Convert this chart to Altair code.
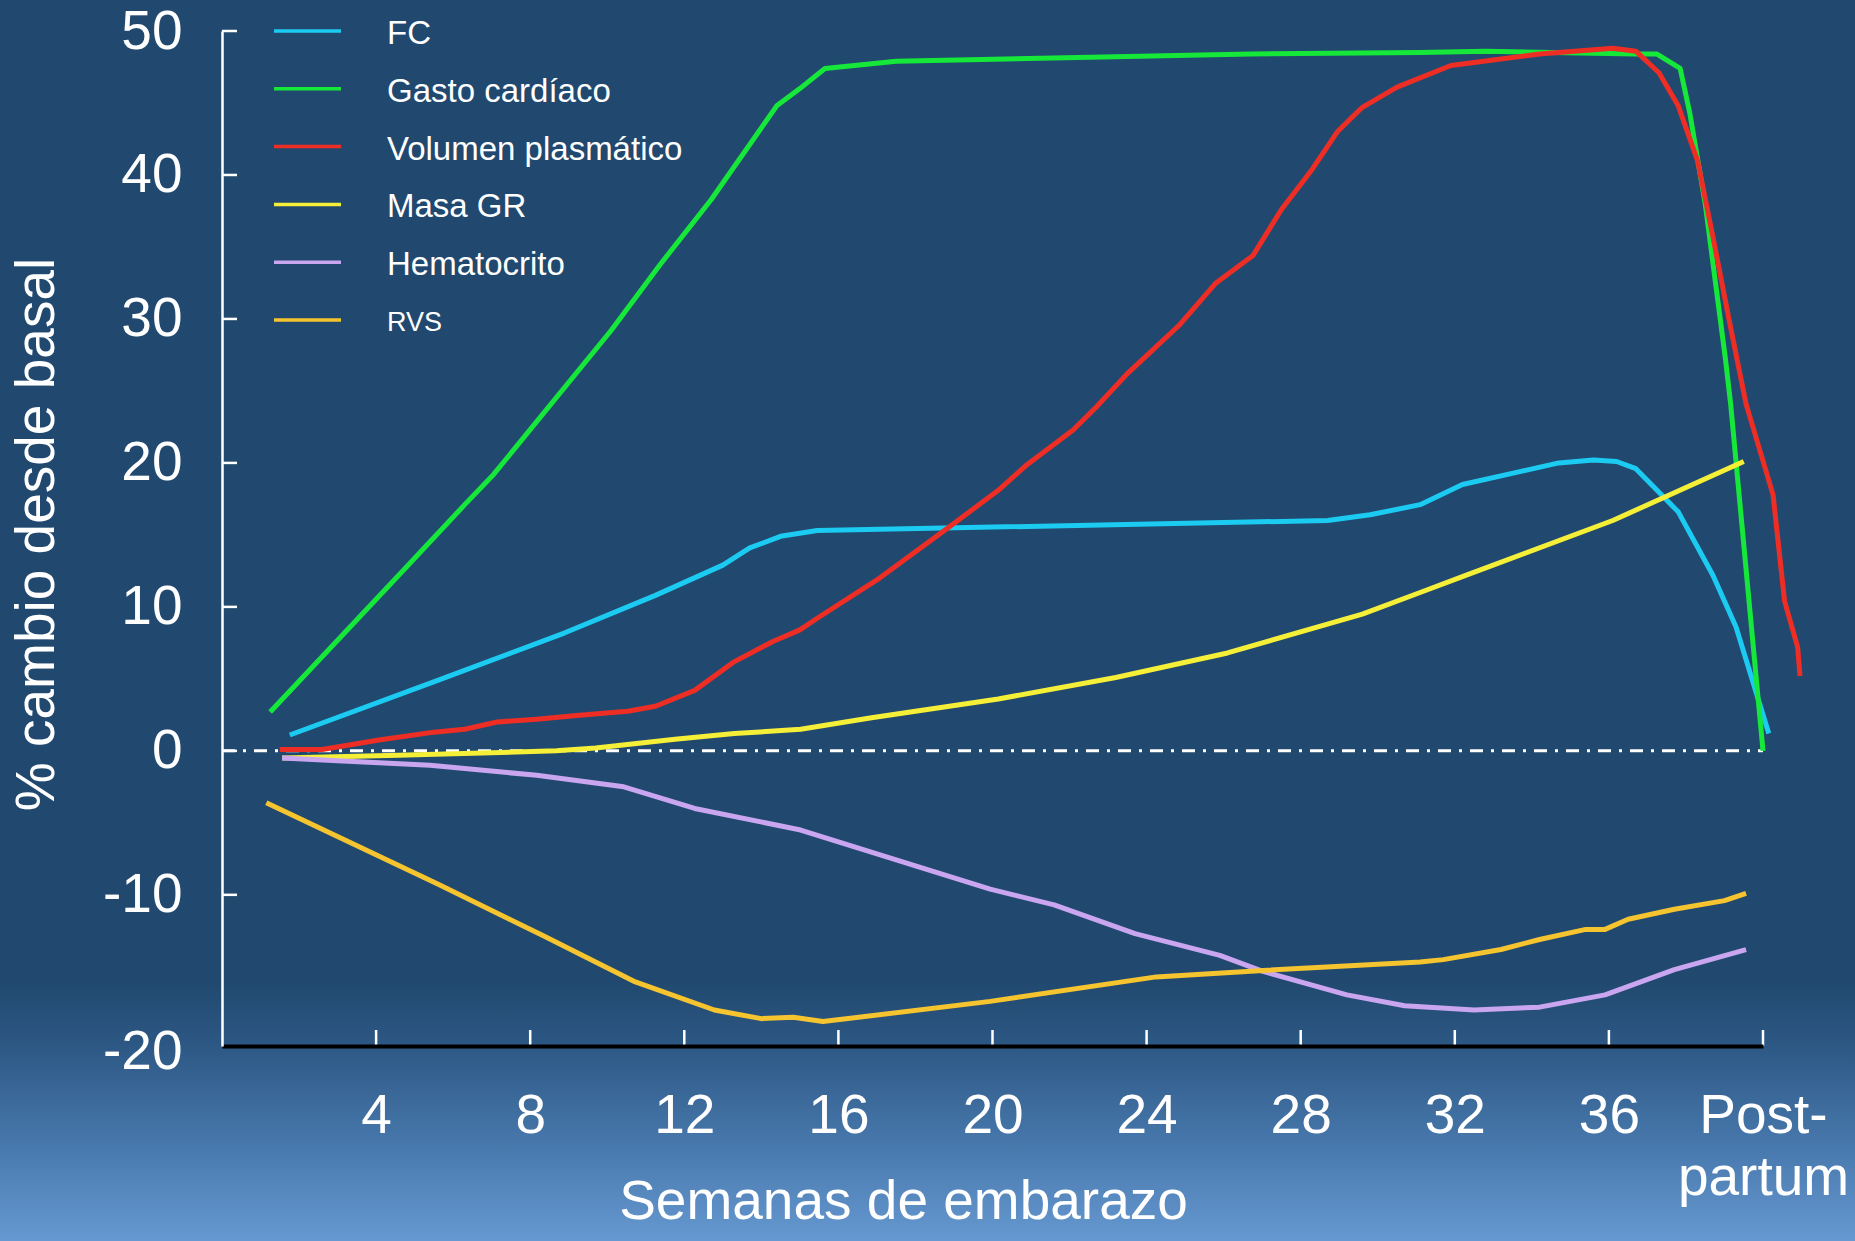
import altair as alt
import pandas as pd

# ---------------- data ----------------
series_names = ["FC", "Gasto cardíaco", "Volumen plasmático", "Masa GR", "Hematocrito", "RVS"]
series_colors = ["#1ccbf2", "#16e83a", "#ee2e24", "#f6ef38", "#c9a6ef", "#f6c42e"]

fc_weeks = [1.76, 5.6, 8.9, 11.25, 13.0, 13.7, 14.5, 15.45, 28.7, 29.8, 31.1, 32.2,
            34.7, 35.6, 36.2, 36.7, 37.8, 38.7, 39.3, 40.15]
fc_values = [1.1, 4.9, 8.2, 10.8, 12.9, 14.1, 14.9, 15.3, 16.0, 16.4, 17.1, 18.5,
             20.0, 20.2, 20.1, 19.6, 16.6, 12.2, 8.6, 1.2]

gc_weeks = [1.25, 4.8, 6.3, 7.05, 10.1, 11.35, 12.7, 14.4, 15.0, 15.65, 17.5, 26.7,
            31.1, 32.8, 36.7, 37.25, 37.85, 38.1, 38.5, 39.03, 39.16, 40.0]
gc_values = [2.7, 12.8, 17.1, 19.2, 29.2, 33.7, 38.3, 44.8, 46.0, 47.4, 47.9, 48.4,
             48.5, 48.6, 48.4, 48.4, 47.4, 44.3, 38.0, 27.1, 24.1, 0.0]

vp_weeks = [1.5, 2.6, 4.07, 5.5, 6.3, 7.14, 8.17, 9.2, 10.53, 11.25, 12.27, 13.3,
            14.3, 15.0, 15.5, 17.07, 18.9, 20.15, 20.86, 22.1, 22.7, 23.5, 24.86,
            25.8, 26.76, 27.5, 28.3, 28.95, 29.6, 30.5, 31.9, 34.2, 36.1, 36.7,
            37.3, 37.8, 38.3, 38.7, 39.1, 39.56, 40.26, 40.56, 40.9, 40.96]
vp_values = [0.1, 0.1, 0.75, 1.3, 1.5, 2.0, 2.2, 2.45, 2.75, 3.1, 4.2, 6.2,
             7.6, 8.4, 9.3, 12.0, 15.6, 18.1, 19.8, 22.3, 23.9, 26.2, 29.6,
             32.5, 34.4, 37.6, 40.4, 43.0, 44.7, 46.1, 47.6, 48.4, 48.8, 48.6,
             47.1, 44.8, 41.0, 35.7, 30.2, 24.1, 17.8, 10.4, 7.2, 5.2]

mgr_weeks = [1.56, 4.58, 8.68, 9.7, 11.76, 13.3, 15.02, 16.86, 20.15, 23.2, 26.1,
             29.6, 31.1, 32.3, 36.1, 39.5]
mgr_values = [-0.5, -0.3, 0.0, 0.2, 0.8, 1.2, 1.5, 2.3, 3.6, 5.1, 6.8,
              9.5, 11.0, 12.2, 16.0, 20.1]

hto_weeks = [1.56, 5.4, 8.17, 10.43, 12.27, 15.02, 19.94, 21.6, 23.7, 25.9, 27.0,
             29.2, 30.7, 32.5, 34.2, 35.9, 37.7, 39.56]
hto_values = [-0.5, -1.0, -1.7, -2.5, -4.0, -5.5, -9.6, -10.7, -12.7, -14.2, -15.3,
              -16.95, -17.7, -18.0, -17.8, -16.95, -15.2, -13.8]

rvs_weeks = [1.15, 5.6, 8.38, 10.73, 12.78, 14.0, 14.83, 15.6, 19.94, 24.25, 26.7,
             31.1, 31.7, 33.2, 34.2, 35.4, 35.9, 36.5, 37.7, 39.0, 39.56]
rvs_values = [-3.6, -9.25, -12.9, -16.05, -18.0, -18.6, -18.5, -18.8, -17.4, -15.7, -15.3,
              -14.66, -14.5, -13.8, -13.1, -12.4, -12.4, -11.7, -11.0, -10.4, -9.9]

x_tick_values = [4, 8, 12, 16, 20, 24, 28, 32, 36, 40]
y_tick_values = [-20, -10, 0, 10, 20, 30, 40, 50]
y_inner_ticks = [-10, 0, 10, 20, 30, 40, 50]

x_title = "Semanas de embarazo"
y_title = "% cambio desde basal"

# ---------------- build table ----------------
all_series = [
    (series_names[0], fc_weeks, fc_values),
    (series_names[1], gc_weeks, gc_values),
    (series_names[2], vp_weeks, vp_values),
    (series_names[3], mgr_weeks, mgr_values),
    (series_names[4], hto_weeks, hto_values),
    (series_names[5], rvs_weeks, rvs_values),
]
rows = []
for name, ws, vs in all_series:
    for i, (w, v) in enumerate(zip(ws, vs)):
        rows.append({"serie": name, "semana": w, "valor": v, "orden": i})
df = pd.DataFrame(rows)

W, H = 1541, 1015
PAD = {"left": 222, "top": 31, "right": 92, "bottom": 195}
FONT = "Liberation Sans"

xs = alt.Scale(domain=[0, 40], nice=False, zero=False)
ys = alt.Scale(domain=[-20.5, 50], nice=False, zero=False)
color_scale = alt.Scale(domain=series_names, range=series_colors)

x_axis = alt.Axis(
    values=x_tick_values, ticks=False, tickSize=0, grid=False, zindex=1,
    domainColor="black", domainWidth=4,
    labelColor="white", labelFont=FONT, labelFontSize=55, labelPadding=43,
    labelBaseline="top", labelLineHeight=62, labelFlush=False, labelOverlap=False,
    labelExpr="datum.value == 40 ? ['Post-', 'partum'] : toString(datum.value)",
    title=x_title, titleColor="white", titleFont=FONT, titleFontSize=55,
    titleFontWeight="normal", titleX=681, titleY=172, titleAlign="center",
    titleBaseline="alphabetic",
)
y_axis = alt.Axis(
    values=y_tick_values, ticks=False, tickSize=0, grid=False, zindex=1,
    domainColor="white", domainWidth=2.5,
    labelColor="white", labelFont=FONT, labelFontSize=55, labelPadding=40,
    labelExpr="toString(datum.value)",
    labelOffset={"condition": {"test": "datum.value == -20", "value": 13}, "value": 0},
    labelOverlap=False,
    title=y_title, titleColor="white", titleFont=FONT, titleFontSize=55,
    titleFontWeight="normal", titleX=-186, titleY=503, titleAlign="center",
    titleBaseline="middle",
)

bg = alt.Chart(pd.DataFrame({"a": [0]})).mark_rect(
    fill=alt.Gradient(
        gradient="linear",
        stops=[
            alt.GradientStop(color="#21496f", offset=0),
            alt.GradientStop(color="#21496f", offset=0.79),
            alt.GradientStop(color="#2c5783", offset=0.84),
            alt.GradientStop(color="#4a7bb0", offset=0.93),
            alt.GradientStop(color="#6699d1", offset=1),
        ],
        x1=0, x2=0, y1=0, y2=1,
    )
).encode(
    x=alt.value(-PAD["left"]), x2=alt.value(W + PAD["right"]),
    y=alt.value(-PAD["top"]), y2=alt.value(H + PAD["bottom"]),
)

lines = alt.Chart(df).mark_line(strokeWidth=5, interpolate="linear", strokeJoin="round").encode(
    x=alt.X("semana:Q", scale=xs, axis=x_axis),
    y=alt.Y("valor:Q", scale=ys, axis=y_axis),
    color=alt.Color("serie:N", scale=color_scale, legend=None),
    order=alt.Order("orden:Q"),
)

zero_df = pd.DataFrame({"y": [0], "x0": [0], "x1": [40]})
zero_line = alt.Chart(zero_df).mark_rule(
    color="white", strokeWidth=3, strokeDash=[13, 8, 3, 8]
).encode(
    y=alt.Y("y:Q", scale=ys, axis=y_axis), x=alt.X("x0:Q", scale=xs, axis=x_axis), x2="x1:Q"
)

yt = alt.Chart(pd.DataFrame({"v": y_inner_ticks})).mark_rule(
    color="white", strokeWidth=2.5
).encode(y=alt.Y("v:Q", scale=ys, axis=y_axis), x=alt.value(0), x2=alt.value(15))

xt = alt.Chart(pd.DataFrame({"w": x_tick_values})).mark_rule(
    color="white", strokeWidth=2.5
).encode(x=alt.X("w:Q", scale=xs, axis=x_axis), y=alt.value(H), y2=alt.value(H - 16))

main = alt.layer(bg, zero_line, lines, yt, xt)

legend_df = pd.DataFrame({"serie": series_names})
leg_y = alt.Y("serie:N", scale=alt.Scale(type="point", domain=series_names,
                                          range=[0, 289], padding=0), axis=None)
leg_lines = alt.Chart(legend_df).mark_rule(strokeWidth=3.5).encode(
    y=leg_y, x=alt.value(52), x2=alt.value(119),
    color=alt.Color("serie:N", scale=color_scale, legend=None),
)
leg_text = alt.Chart(legend_df).mark_text(
    align="left", baseline="middle", dy=3, font=FONT, color="white"
).encode(
    y=leg_y, x=alt.value(165), text="serie:N",
    size=alt.condition("datum.serie == 'RVS'", alt.value(27), alt.value(33)),
)
legend = alt.layer(leg_lines, leg_text)

chart = alt.layer(main, legend).resolve_scale(y="independent").properties(
    width=W, height=H, padding=PAD,
    autosize=alt.AutoSizeParams(type="none"),
    background="#21496f",
).configure_view(stroke=None)

chart.save("out.html", embed_options={"renderer": "svg", "actions": False})
